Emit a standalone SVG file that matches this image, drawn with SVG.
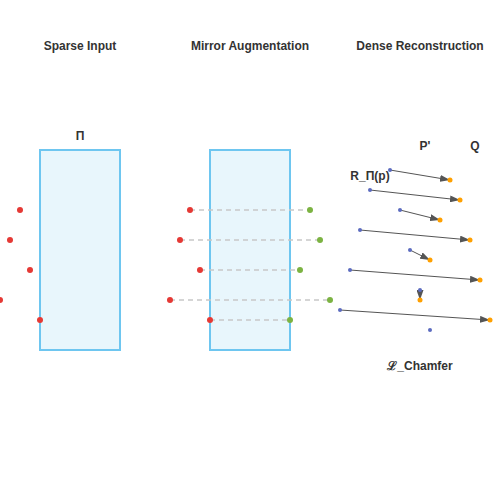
<svg xmlns="http://www.w3.org/2000/svg" width="500" height="500" viewBox="0 0 500 500">
<style>
.t{font-family:"Liberation Sans",Arial,sans-serif;font-size:12px;font-weight:bold;fill:#333;text-anchor:middle}
.plane{fill:#e8f6fc;stroke:#6ec6f0;stroke-width:2}
.r{fill:#e53935}
.g{fill:#7cb342}
.b{fill:#5c6bc0}
.o{fill:#ffa000}
.d{stroke:#c8c8c8;stroke-width:1.5;stroke-dasharray:5,4}
.a{stroke:#555;stroke-width:1;marker-end:url(#ah)}
</style>
<defs>
<marker id="ah" viewBox="0 0 10 7" refX="10" refY="3.5" markerWidth="10" markerHeight="7" orient="auto" markerUnits="userSpaceOnUse"><path d="M0,0L10,3.5L0,7z" fill="#555"/></marker>
</defs>
<rect width="500" height="500" fill="#fff"/>
<text class="t" x="80" y="50">Sparse Input</text>
<text class="t" x="250" y="50">Mirror Augmentation</text>
<text class="t" x="420" y="50">Dense Reconstruction</text>
<g id="plane1"><rect class="plane" x="40" y="150" width="80" height="200"/><text class="t" x="80" y="140">Π</text></g>
<g id="sparse">
<circle class="r" cx="20" cy="210" r="3"/><circle class="r" cx="10" cy="240" r="3"/><circle class="r" cx="30" cy="270" r="3"/><circle class="r" cx="0" cy="300" r="3"/><circle class="r" cx="40" cy="320" r="3"/>
</g>
<g id="plane2"><rect class="plane" x="210" y="150" width="80" height="200"/></g>
<g id="mirror-lines">
<line class="d" x1="190" y1="210" x2="310" y2="210"/><line class="d" x1="180" y1="240" x2="320" y2="240"/><line class="d" x1="200" y1="270" x2="300" y2="270"/><line class="d" x1="170" y1="300" x2="330" y2="300"/><line class="d" x1="210" y1="320" x2="290" y2="320"/>
</g>
<g id="mirror">
<circle class="r" cx="190" cy="210" r="3"/><circle class="r" cx="180" cy="240" r="3"/><circle class="r" cx="200" cy="270" r="3"/><circle class="r" cx="170" cy="300" r="3"/><circle class="r" cx="210" cy="320" r="3"/>
<circle class="g" cx="310" cy="210" r="3"/><circle class="g" cx="320" cy="240" r="3"/><circle class="g" cx="300" cy="270" r="3"/><circle class="g" cx="330" cy="300" r="3"/><circle class="g" cx="290" cy="320" r="3"/>
</g>
<g id="dense-arrows">
<line class="a" x1="390" y1="170" x2="450" y2="180"/><line class="a" x1="370" y1="190" x2="460" y2="200"/><line class="a" x1="400" y1="210" x2="440" y2="220"/><line class="a" x1="360" y1="230" x2="470" y2="240"/><line class="a" x1="410" y1="250" x2="430" y2="260"/><line class="a" x1="350" y1="270" x2="480" y2="280"/><line class="a" x1="420" y1="290" x2="420" y2="300"/><line class="a" x1="340" y1="310" x2="490" y2="320"/>
</g>
<g id="dense">
<circle class="o" cx="450" cy="180" r="2.5"/><circle class="o" cx="460" cy="200" r="2.5"/><circle class="o" cx="440" cy="220" r="2.5"/><circle class="o" cx="470" cy="240" r="2.5"/><circle class="o" cx="430" cy="260" r="2.5"/><circle class="o" cx="480" cy="280" r="2.5"/><circle class="o" cx="420" cy="300" r="2.5"/><circle class="o" cx="490" cy="320" r="2.5"/>
<circle class="b" cx="390" cy="170" r="2"/><circle class="b" cx="370" cy="190" r="2"/><circle class="b" cx="400" cy="210" r="2"/><circle class="b" cx="360" cy="230" r="2"/><circle class="b" cx="410" cy="250" r="2"/><circle class="b" cx="350" cy="270" r="2"/><circle class="b" cx="420" cy="290" r="2"/><circle class="b" cx="340" cy="310" r="2"/><circle class="b" cx="430" cy="330" r="2"/>
</g>
<g id="labels">
<text class="t" x="425" y="150">P'</text>
<text class="t" x="475" y="150">Q</text>
<text class="t" x="370" y="180">R_Π(p)</text>
<text class="t" x="420" y="370">ℒ_Chamfer</text>
</g>
</svg>
